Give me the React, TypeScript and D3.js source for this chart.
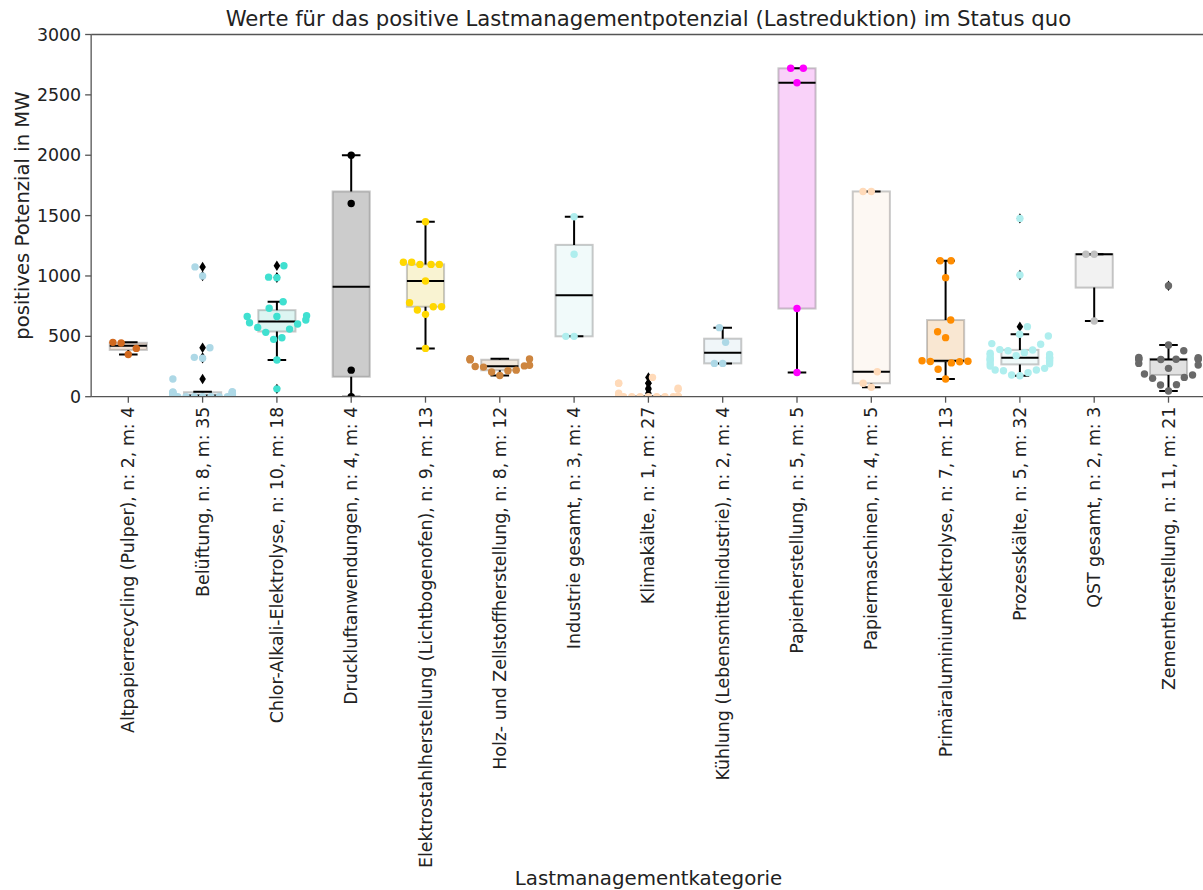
import React from "react";
import * as d3 from "d3";

const categories: string[] = [
  "Altpapierrecycling (Pulper), n: 2, m: 4",
  "Belüftung, n: 8, m: 35",
  "Chlor-Alkali-Elektrolyse, n: 10, m: 18",
  "Druckluftanwendungen, n: 4, m: 4",
  "Elektrostahlherstellung (Lichtbogenofen), n: 9, m: 13",
  "Holz- und Zellstoffherstellung, n: 8, m: 12",
  "Industrie gesamt, n: 3, m: 4",
  "Klimakälte, n: 1, m: 27",
  "Kühlung (Lebensmittelindustrie), n: 2, m: 4",
  "Papierherstellung, n: 5, m: 5",
  "Papiermaschinen, n: 4, m: 5",
  "Primäraluminiumelektrolyse, n: 7, m: 13",
  "Prozesskälte, n: 5, m: 32",
  "QST gesamt, n: 2, m: 3",
  "Zementherstellung, n: 11, m: 21",
];

const colors: string[] = [
  "#D2691E", "#ADD8E6", "#40E0D0", "#000000", "#FFD700", "#CD853F", "#AFEEEE",
  "#FFDAB9", "#ADD8E6", "#FF00FF", "#FFDAB9", "#FF8C00", "#AFEEEE", "#C0C0C0", "#696969",
];

const altpapier = [350, 400, 445, 450];
const belueftung = [
  0, 0, 0, 0, 0, 0, 0, 0, 0, 0, 0, 0, 0, 0, 0,
  5, 8, 10, 12, 15, 20, 25, 28, 30, 33, 36, 38, 40, 42,
  146, 318, 326, 405, 1000, 1075,
];
const chlorAlkali = [65, 304, 475, 488, 533, 560, 574, 602, 612, 635, 664, 664, 671, 732, 787, 985, 990, 1085];
const druckluft = [0, 220, 1600, 2000];
const elektrostahl = [400, 682, 718, 745, 745, 779, 958, 1096, 1096, 1096, 1113, 1113, 1449];
const holz = [175, 205, 215, 220, 245, 250, 255, 260, 305, 310, 312, 315];
const industrie = [500, 500, 1180, 1490];
const klimakaelte = [
  0, 0, 0, 0, 0, 0, 0, 0, 0, 0, 0, 0, 0, 0, 0, 0, 0, 0, 0, 0, 0,
  28, 61, 70, 111, 111, 160,
];
const kuehlung = [276, 276, 450, 572];
const papierherstellung = [200, 730, 2600, 2720, 2720];
const papiermaschinen = [78, 111, 207, 1700, 1700];
const primaeraluminium = [147, 227, 280, 290, 292, 294, 298, 489, 538, 635, 986, 1126, 1126];
const prozesskaelte = [
  174, 180, 199, 215, 221, 221, 235, 254, 272, 276, 290, 300, 304, 310, 318, 320,
  326, 340, 345, 350, 360, 365, 380, 387, 390, 434, 440, 503, 517, 580, 1008, 1477,
];
const qst = [627, 1180, 1180];
const zement = [47, 97, 100, 152, 160, 180, 188, 235, 263, 276, 308, 310, 310, 311, 312, 313, 323, 326, 381, 428, 919];

const seriesValues: number[][] = [
  altpapier, belueftung, chlorAlkali, druckluft, elektrostahl, holz, industrie, klimakaelte,
  kuehlung, papierherstellung, papiermaschinen, primaeraluminium, prozesskaelte, qst, zement,
];

const yTicks = [0, 500, 1000, 1500, 2000, 2500, 3000];

const title = "Werte für das positive Lastmanagementpotenzial (Lastreduktion) im Status quo";
const yLabel = "positives Potenzial in MW";
const xLabel = "Lastmanagementkategorie";

const W = 1203;
const H = 890;
const left = 91.15;
const step = 74.3;
const right = left + step * categories.length;
const top = 34.5;
const bottom = 396.7;
const FONT = "'DejaVu Sans', sans-serif";

function boxStats(vals: number[]) {
  const s = [...vals].sort(d3.ascending);
  const q1 = d3.quantileSorted(s, 0.25) as number;
  const med = d3.quantileSorted(s, 0.5) as number;
  const q3 = d3.quantileSorted(s, 0.75) as number;
  const iqr = q3 - q1;
  const lo = q1 - 1.5 * iqr;
  const hi = q3 + 1.5 * iqr;
  const inside = s.filter((v) => v >= lo && v <= hi);
  return {
    q1, med, q3,
    wLo: d3.min(inside) as number,
    wHi: d3.max(inside) as number,
    fliers: s.filter((v) => v < lo || v > hi),
  };
}

// seaborn-style beeswarm; ys are "upward" compute-space coordinates
function beeswarm(ys: number[], cx: number, r: number, halfWidth: number): number[] {
  const order = ys.map((_, i) => i).sort((a, b) => ys[a] - ys[b]);
  const placed: { x: number; y: number }[] = [];
  const xs = new Array(ys.length).fill(cx);
  for (const i of order) {
    const y = ys[i];
    const neighbors: { x: number; y: number }[] = [];
    for (let k = placed.length - 1; k >= 0; k--) {
      if (y - placed[k].y < 2 * r) neighbors.push(placed[k]);
      else break;
    }
    let chosen = cx;
    if (neighbors.length) {
      const cands: number[] = [cx];
      let leftFirst = true;
      for (const n of neighbors) {
        const dy = y - n.y;
        const dx = Math.sqrt(Math.max(4 * r * r - dy * dy, 0)) * 1.05;
        const cl = n.x - dx, cr = n.x + dx;
        if (leftFirst) cands.push(cl, cr);
        else cands.push(cr, cl);
        leftFirst = !leftFirst;
      }
      const sorted = cands
        .map((c, k) => ({ c, k }))
        .sort((a, b) => Math.abs(a.c - cx) - Math.abs(b.c - cx) || a.k - b.k);
      for (const { c } of sorted) {
        let ok = true;
        for (const n of neighbors) {
          const ddx = n.x - c, ddy = n.y - y;
          if (ddx * ddx + ddy * ddy < 4 * r * r - 1e-6) { ok = false; break; }
        }
        if (ok) { chosen = c; break; }
      }
    }
    placed.push({ x: chosen, y });
    xs[i] = chosen;
  }
  return xs.map((x) => Math.max(cx - halfWidth, Math.min(cx + halfWidth, x)));
}

export default function App() {
  const x = d3.scaleBand<string>().domain(categories).range([left, right]).padding(0);
  const y = d3.scaleLinear().domain([0, 3000]).range([bottom, top]);
  const bw = x.bandwidth();
  const boxHalf = bw * 0.25;
  const capHalf = boxHalf * 0.5;
  const axisColor = "#555";
  const textColor = "#222";
  const swarmYScale = 0.352;

  const diamond = (cx: number, cy: number) =>
    `M${cx},${cy - 5.2}L${cx + 3.3},${cy}L${cx},${cy + 5.2}L${cx - 3.3},${cy}Z`;

  return (
    <svg width={W} height={H} style={{ position: "absolute", left: 0, top: 0, background: "#fff" }} fontFamily={FONT}>
      <defs>
        <clipPath id="plotclip">
          <rect x={left} y={top} width={right - left} height={bottom - top} />
        </clipPath>
      </defs>
      <rect x={0} y={0} width={W} height={H} fill="#fff" />
      <g clipPath="url(#plotclip)">
        {categories.map((c, i) => {
          const st = boxStats(seriesValues[i]);
          const cx = (x(c) as number) + bw / 2;
          const col = colors[i];
          const hsl = d3.hsl(col);
          if (!isNaN(hsl.s)) hsl.s = hsl.s * 0.75;
          const fill = i === 3 ? "#000" : hsl.formatHex();
          return (
            <g key={c}>
              <rect x={cx - boxHalf} y={y(st.q3)} width={boxHalf * 2} height={Math.max(y(st.q1) - y(st.q3), 0.5)}
                fill={fill} fillOpacity={0.2} stroke="#3f3f3f" strokeOpacity={0.28} strokeWidth={2} />
              <line x1={cx} x2={cx} y1={y(st.q1)} y2={y(st.wLo)} stroke="#000" strokeWidth={2} />
              <line x1={cx} x2={cx} y1={y(st.q3)} y2={y(st.wHi)} stroke="#000" strokeWidth={2} />
              <line x1={cx - capHalf} x2={cx + capHalf} y1={y(st.wLo)} y2={y(st.wLo)} stroke="#000" strokeWidth={2} />
              <line x1={cx - capHalf} x2={cx + capHalf} y1={y(st.wHi)} y2={y(st.wHi)} stroke="#000" strokeWidth={2} />
              <line x1={cx - boxHalf} x2={cx + boxHalf} y1={y(st.med)} y2={y(st.med)} stroke="#000" strokeWidth={2} />
              {st.fliers.map((v, k) => (
                <path key={k} d={diamond(cx, y(v))} fill="#000" />
              ))}
            </g>
          );
        })}
        {categories.map((c, i) => {
          const cx = (x(c) as number) + bw / 2;
          const ys = seriesValues[i].map((v) => y(v));
          const xs = beeswarm(ys.map((py) => (bottom - py) * swarmYScale), cx, 3.95, bw * 0.4);
          return (
            <g key={"p" + c}>
              {ys.map((py, k) => (
                <circle key={k} cx={xs[k]} cy={py} r={3.7} fill={colors[i]} />
              ))}
            </g>
          );
        })}
      </g>
      {/* spines */}
      <line x1={left} x2={left} y1={top} y2={bottom} stroke={axisColor} strokeWidth={1.3} />
      <line x1={left} x2={right} y1={bottom} y2={bottom} stroke={axisColor} strokeWidth={1.3} />
      <line x1={left} x2={right} y1={top} y2={top} stroke={axisColor} strokeWidth={1.3} />
      <line x1={right} x2={right} y1={top} y2={bottom} stroke={axisColor} strokeWidth={1.3} />
      {/* y ticks */}
      {yTicks.map((t) => (
        <g key={t}>
          <line x1={left - 6} x2={left} y1={y(t)} y2={y(t)} stroke={axisColor} strokeWidth={1.3} />
          <text x={left - 10} y={y(t)} textAnchor="end" dominantBaseline="central" fontSize={17.4} fill={textColor}>
            {t}
          </text>
        </g>
      ))}
      {/* x ticks */}
      {categories.map((c) => {
        const cx = (x(c) as number) + bw / 2;
        return (
          <g key={"t" + c}>
            <line x1={cx} x2={cx} y1={bottom} y2={bottom + 6} stroke={axisColor} strokeWidth={1.3} />
            <text transform={`translate(${cx},${bottom + 10}) rotate(-90)`} textAnchor="end" dominantBaseline="central"
              fontSize={17.4} fill={textColor}>
              {c}
            </text>
          </g>
        );
      })}
      <text x={(left + right) / 2} y={26} textAnchor="middle" fontSize={21.2} fill={textColor}>
        {title}
      </text>
      <text transform={`translate(29,${(top + bottom) / 2}) rotate(-90)`} textAnchor="middle" fontSize={19.6} fill={textColor}>
        {yLabel}
      </text>
      <text x={(left + right) / 2} y={885} textAnchor="middle" fontSize={19.8} fill={textColor}>
        {xLabel}
      </text>
    </svg>
  );
}
